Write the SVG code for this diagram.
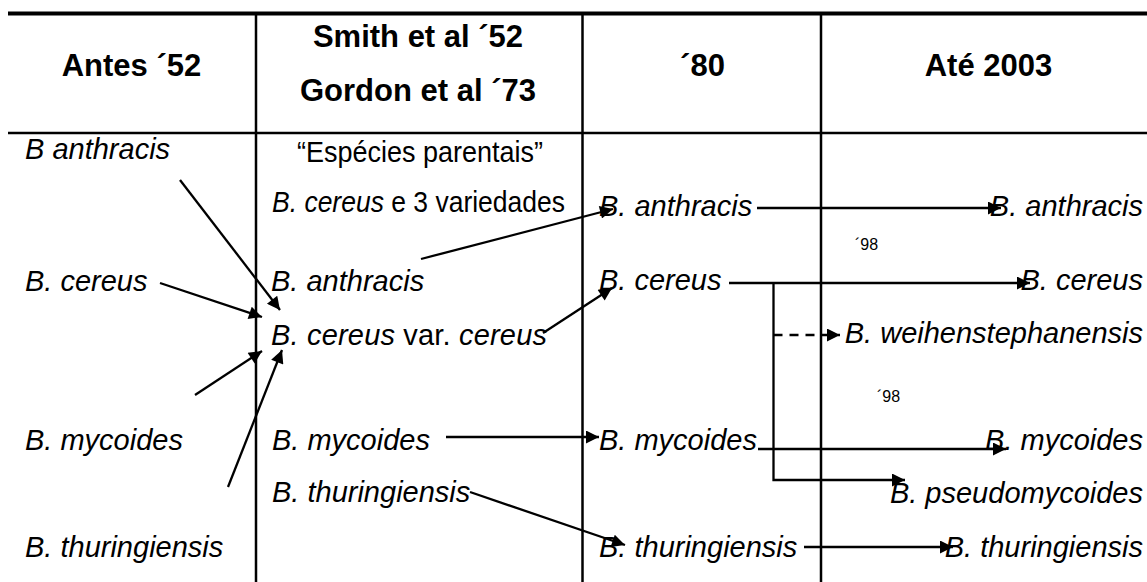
<svg xmlns="http://www.w3.org/2000/svg" width="1147" height="582" viewBox="0 0 1147 582">
<defs>
<style>
.h{font-family:"Liberation Sans",Arial,sans-serif;font-weight:bold;font-size:31px;fill:#000;text-anchor:middle}
.t{font-family:"Liberation Sans",Arial,sans-serif;font-size:29px;fill:#000}
.i{font-style:italic}
.e{text-anchor:end}
.s{font-family:"Liberation Sans",Arial,sans-serif;font-size:16px;fill:#000}
.grid line{stroke:#000;stroke-width:2.5}
.c line,.c path{stroke:#000;stroke-width:2.3;fill:none}
.a{marker-end:url(#ah)}
</style>
<marker id="ah" viewBox="0 0 10 10" refX="10" refY="5" markerWidth="16" markerHeight="13" markerUnits="userSpaceOnUse" orient="auto">
<path d="M0,0 L10,5 L0,10 z" fill="#000"/>
</marker>
</defs>
<rect width="1147" height="582" fill="#fff"/>
<g id="grid" class="grid">
<line x1="8" y1="13.5" x2="1147" y2="13.5" style="stroke-width:4"/>
<line x1="8" y1="133" x2="1147" y2="133"/>
<line x1="256" y1="14" x2="256" y2="582"/>
<line x1="582.5" y1="14" x2="582.5" y2="582"/>
<line x1="821" y1="14" x2="821" y2="582"/>
</g>
<g id="headers">
<text class="h" x="131.5" y="76">Antes ´52</text>
<text class="h" x="418" y="47">Smith et al ´52</text>
<text class="h" x="418" y="101">Gordon et al ´73</text>
<text class="h" x="702.5" y="76">´80</text>
<text class="h" x="988.5" y="76">Até 2003</text>
</g>
<g id="col-antes">
<text id="n-l-anthracis" class="t i" x="25" y="159">B anthracis</text>
<text id="n-l-cereus" class="t i" x="25" y="291">B. cereus</text>
<text id="n-l-mycoides" class="t i" x="25" y="450">B. mycoides</text>
<text id="n-l-thuringiensis" class="t i" x="25" y="557">B. thuringiensis</text>
</g>
<g id="col-smith">
<text id="n-s-parentais" class="t" x="297" y="162" textLength="246" lengthAdjust="spacingAndGlyphs">“Espécies parentais”</text>
<text id="n-s-cereus3" class="t" x="272" y="212" textLength="293" lengthAdjust="spacingAndGlyphs"><tspan class="i">B. cereus</tspan> e 3 variedades</text>
<text id="n-s-anthracis" class="t i" x="271" y="291">B. anthracis</text>
<text id="n-s-cereusvar" class="t" x="271" y="345" textLength="276"><tspan class="i">B. cereus</tspan> var. <tspan class="i">cereus</tspan></text>
<text id="n-s-mycoides" class="t i" x="272" y="450">B. mycoides</text>
<text id="n-s-thuringiensis" class="t i" x="272" y="502">B. thuringiensis</text>
</g>
<g id="col-80">
<text id="n-80-anthracis" class="t i" x="599" y="216">B. anthracis</text>
<text id="n-80-cereus" class="t i" x="599" y="290">B. cereus</text>
<text id="n-80-mycoides" class="t i" x="599" y="450">B. mycoides</text>
<text id="n-80-thuringiensis" class="t i" x="599" y="557">B. thuringiensis</text>
</g>
<g id="col-2003">
<text id="n-03-anthracis" class="t i e" x="1143" y="216">B. anthracis</text>
<text id="n-03-cereus" class="t i e" x="1143" y="290">B. cereus</text>
<text id="n-03-weihen" class="t i e" x="1143" y="343">B. weihenstephanensis</text>
<text id="n-03-mycoides" class="t i e" x="1143" y="450">B. mycoides</text>
<text id="n-03-pseudo" class="t i e" x="1143" y="503">B. pseudomycoides</text>
<text id="n-03-thuringiensis" class="t i e" x="1143" y="557">B. thuringiensis</text>
</g>
<g id="labels">
<text class="s" x="855" y="250">´98</text>
<text class="s" x="877" y="402">´98</text>
</g>
<g id="connectors" class="c">
<line class="a" x1="180" y1="180" x2="280" y2="310"/>
<line class="a" x1="160" y1="283" x2="262" y2="317"/>
<line class="a" x1="195" y1="395" x2="262" y2="351"/>
<line class="a" x1="228" y1="487" x2="282" y2="350"/>
<line class="a" x1="421" y1="259" x2="613" y2="209"/>
<line class="a" x1="543" y1="333" x2="612" y2="288"/>
<line class="a" x1="446" y1="437" x2="599" y2="437"/>
<line class="a" x1="470" y1="492" x2="625" y2="545"/>
<line class="a" x1="757" y1="208" x2="1001" y2="208"/>
<line class="a" x1="729" y1="283" x2="1030" y2="283"/>
<path class="a" d="M773.5,283 V480 H905"/>
<line class="a" x1="773.5" y1="335" x2="840" y2="335" stroke-dasharray="9,7"/>
<line class="a" x1="758" y1="449" x2="1006" y2="449"/>
<line class="a" x1="804" y1="547" x2="953" y2="547"/>
</g>
</svg>
